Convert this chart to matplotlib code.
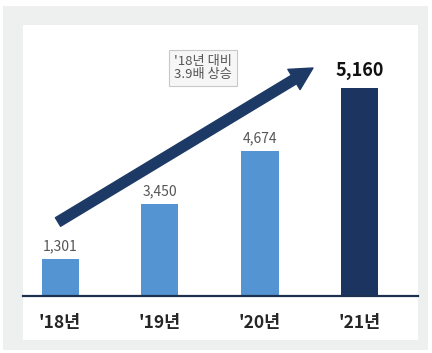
import matplotlib
matplotlib.use('Agg')
import matplotlib.pyplot as plt
from matplotlib.patches import Rectangle

plt.rcParams['font.family'] = ['Noto Sans CJK KR', 'DejaVu Sans']

# 데이터
years = ["'18년", "'19년", "'20년", "'21년"]
values = [1301, 3450, 4674, 5160]
# 그림에서 읽은 막대 높이 (원본 그래프는 비례하지 않음)
bar_heights = [37, 92, 145, 208]
bar_colors = ['#5594d3', '#5594d3', '#5594d3', '#1c3560']
note = "'18년 대비\n3.9배 상승"

W, H = 432, 353
fig = plt.figure(figsize=(W / 100, H / 100), dpi=100)
fig.patch.set_facecolor('white')

# 바깥 회색 틀 + 안쪽 흰 패널
fig.patches.append(Rectangle((3 / W, 1 - 350 / H), 425 / W, 344 / H,
                             transform=fig.transFigure, facecolor='#eef0f0',
                             edgecolor='none', zorder=-2))
fig.patches.append(Rectangle((23 / W, 1 - 340 / H), 395 / W, 315 / H,
                             transform=fig.transFigure, facecolor='white',
                             edgecolor='none', zorder=-1))

ax = fig.add_axes([23 / W, (H - 296) / H, 395 / W, 271 / H])
ax.set_facecolor('none')

x = list(range(len(years)))
ax.bar(x, bar_heights, width=0.37, color=bar_colors, zorder=2)
ax.set_xlim(-0.37, 3.58)
ax.set_ylim(0, 271)

# 값 라벨
for i, (h, v) in enumerate(zip(bar_heights, values)):
    if i == len(values) - 1:
        ax.annotate(f'{v:,}', (i, h), xytext=(0, 6), textcoords='offset points',
                    ha='center', va='bottom', fontsize=13, fontweight='bold',
                    color='#111111')
    else:
        ax.annotate(f'{v:,}', (i, h), xytext=(0, 4), textcoords='offset points',
                    ha='center', va='bottom', fontsize=10, color='#555555')

# 상승 화살표
ax.annotate('', xy=(2.53, 228), xytext=(-0.02, 74),
            arrowprops=dict(arrowstyle='simple,tail_width=0.72,head_width=1.7,head_length=1.6',
                            mutation_scale=10, color='#1d3a66', shrinkA=0, shrinkB=0),
            zorder=3)

# 주석 박스
ax.text(1.43, 228, note, ha='center', va='center', fontsize=9.5, color='#555555',
        linespacing=1.0,
        bbox=dict(boxstyle='square,pad=0.4', facecolor='#f6f6f6', edgecolor='#c8c8c8',
                  linewidth=0.8))

ax.set_xticks(x)
ax.set_xticklabels(years, fontsize=12.5, fontweight='bold', color='#262626')
ax.tick_params(axis='x', length=0, pad=13)
ax.set_yticks([])
for s in ['top', 'right', 'left']:
    ax.spines[s].set_visible(False)
ax.spines['bottom'].set_color('#1c3050')
ax.spines['bottom'].set_linewidth(1.6)

fig.savefig('out.png', dpi=100, facecolor=fig.get_facecolor())
